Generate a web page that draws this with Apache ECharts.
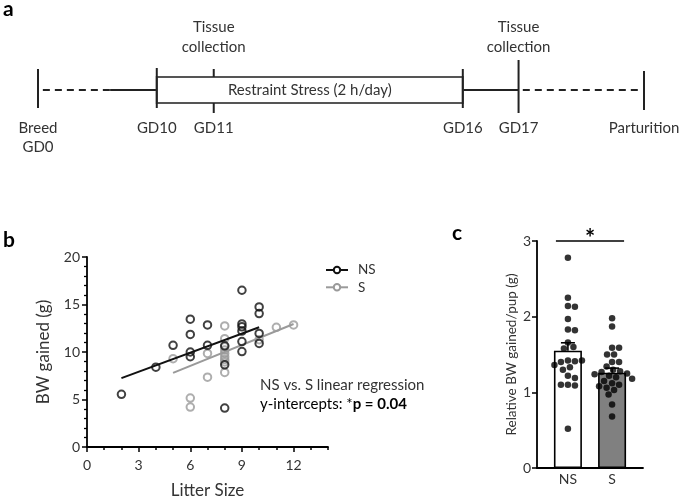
<!DOCTYPE html>
<html><head><meta charset="utf-8">
<script src="https://cdn.jsdelivr.net/npm/echarts@6/dist/echarts.min.js"></script>
<style>html,body{margin:0;padding:0;background:#fff}#c{width:685px;height:497px}</style>
</head><body><div id="c"></div>
<script>
// ---------- Panel a: timeline (schematic positions) ----------
const tlEvents = ['Breed\nGD0', 'GD10', 'GD11', 'GD16', 'GD17', 'Parturition'];
const tlPos = [0, 19.6, 29.0, 70.1, 79.3, 100];
const tlCollect = ['GD11', 'GD17'];
const tlCollectLabel = 'Tissue\ncollection';
const stressSpan = [19.6, 70.1];
const stressLabel = 'Restraint Stress (2 h/day)';
const tlSegments = [[0.8, 11.9, 1], [11.9, 19.6, 0], [70.1, 79.3, 0], [80.0, 99.0, 1]];

// ---------- Panel b: scatter ----------
const nsLitter = [2, 4, 5, 6, 6, 6, 6, 7, 7, 8, 8, 8, 9, 9, 9, 9, 9, 9, 10, 10, 10, 10];
const nsBW = [5.55, 8.4, 10.7, 13.45, 11.85, 10.0, 9.5, 12.85, 10.7, 10.65, 8.65, 4.1, 16.5, 12.95, 12.65, 12.2, 11.1, 10.05, 14.75, 14.05, 11.95, 10.9];
const sLitter = [5, 6, 6, 7, 7, 8, 8, 8, 8, 8, 8, 8, 8, 8, 10, 11, 12];
const sBW = [9.3, 5.15, 4.2, 9.85, 7.35, 12.75, 11.4, 10.55, 10.2, 9.85, 9.5, 9.2, 8.95, 7.85, 11.3, 12.6, 12.85];
const nsFitX = [2, 10], nsFitY = [7.25, 12.6];
const sFitX = [5, 12], sFitY = [7.8, 12.95];
const xTickLabels = [0, 3, 6, 9, 12];
const statLine1 = 'NS vs. S linear regression';
const statLine2a = 'y-intercepts: *';
const statLine2b = 'p = 0.04';

// ---------- Panel c: bars ----------
const groups = ['NS', 'S'];
const groupMean = [1.55, 1.26];
const groupSEM = [0.105, 0.06];
const nsRel = [2.78, 2.25, 2.14, 2.13, 1.97, 1.83, 1.82, 1.66, 1.60, 1.58, 1.42, 1.41, 1.40, 1.42, 1.36, 1.33, 1.30, 1.22, 1.19, 1.10, 1.09, 1.10, 0.52];
const sRel = [1.98, 1.87, 1.59, 1.59, 1.50, 1.50, 1.40, 1.40, 1.34, 1.30, 1.28, 1.27, 1.25, 1.24, 1.22, 1.20, 1.18, 1.15, 1.12, 1.10, 1.08, 1.06, 1.03, 0.97, 0.84, 0.68];
const sigMark = '*';

// ---------- styles ----------
const FONT = 'Lato, "Open Sans", sans-serif';
const TXT = '#333';
const BLACK = '#111';
const GRAY = '#9a9a9a';

const chart = echarts.init(document.getElementById('c'), null, {renderer: 'canvas'});

function swarmOffsets(vals, pxPerUnit, diam) {
  const placed = [];
  return vals.map(v => {
    const y = v * pxPerUnit;
    let best = 0;
    for (let s = 0; s < 400; s++) {
      const dx = (s % 2 ? 1 : -1) * Math.ceil(s / 2) * 0.5;
      if (placed.every(p => (p[0] - dx) ** 2 + (p[1] - y) ** 2 >= diam * diam)) { best = dx; break; }
    }
    placed.push([best, y]);
    return best;
  });
}
const cPx = 227 / 3;
const nsOff = swarmOffsets(nsRel, cPx, 7);
const sOff = swarmOffsets(sRel, cPx, 7);

const tickExt = {'Breed\nGD0': [21, 18], GD10: [22, 18], GD11: [21, 23], GD16: [21, 18], GD17: [30, 23], Parturition: [19, 20]};
const axisLineStyle = {color: '#000', width: 1.8};

const option = {
  animation: false,
  backgroundColor: '#fff',
  grid: [
    {left: 38, top: 55, width: 606, height: 70, outerBoundsMode: 'none'},
    {left: 87, top: 257, width: 241, height: 190, outerBoundsMode: 'none'},
    {left: 537, top: 241, width: 106, height: 227, outerBoundsMode: 'none'}
  ],
  xAxis: [
    {gridIndex: 0, type: 'value', min: 0, max: 100, show: false},
    {gridIndex: 1, type: 'value', min: 0, max: 14, interval: 1, position: 'bottom',
     axisLine: {onZero: false, lineStyle: axisLineStyle},
     axisTick: {length: 3, lineStyle: {color: '#000', width: 1.5}},
     axisLabel: {show: false},
     splitLine: {show: false},
     name: 'Litter Size', nameLocation: 'middle', nameGap: 35,
     nameTextStyle: {fontSize: 17, fontFamily: FONT, color: TXT}},
    {gridIndex: 2, type: 'value', min: -0.7, max: 1.7, interval: 0.1,
     axisLine: {onZero: false, lineStyle: axisLineStyle},
     axisTick: {show: false},
     axisLabel: {margin: 4, fontSize: 14, fontFamily: FONT, color: TXT,
       formatter: v => { const i = Math.round(v); return Math.abs(v - i) < 1e-6 && groups[i] !== undefined ? groups[i] : ''; }},
     splitLine: {show: false}},
    {gridIndex: 1, type: 'value', min: 0, max: 14, position: 'bottom',
     axisLine: {show: false, onZero: false},
     axisTick: {show: true, length: 5, customValues: xTickLabels, lineStyle: {color: '#000', width: 1.5}},
     axisLabel: {margin: 11, fontSize: 14, fontFamily: FONT, color: TXT, customValues: xTickLabels},
     splitLine: {show: false}}
  ],
  yAxis: [
    {gridIndex: 0, type: 'value', min: -35, max: 35, show: false},
    {gridIndex: 1, type: 'value', min: 0, max: 20, interval: 5,
     axisLine: {show: true, onZero: false, lineStyle: axisLineStyle},
     axisTick: {show: true, length: 5, lineStyle: {color: '#000', width: 1.5}},
     minorTick: {show: true, splitNumber: 5, length: 3, lineStyle: {color: '#000', width: 1.3}},
     axisLabel: {margin: 7, fontSize: 14, fontFamily: FONT, color: TXT},
     splitLine: {show: false},
     name: 'BW gained (g)', nameLocation: 'middle', nameGap: 35,
     nameTextStyle: {fontSize: 17, fontFamily: FONT, color: TXT}},
    {gridIndex: 2, type: 'value', min: 0, max: 3, interval: 1,
     axisLine: {show: true, onZero: false, lineStyle: axisLineStyle},
     axisTick: {show: true, length: 5, lineStyle: {color: '#000', width: 1.5}},
     axisLabel: {margin: 6, fontSize: 14, fontFamily: FONT, color: TXT},
     splitLine: {show: false},
     name: 'Relative BW gained/pup (g)', nameLocation: 'middle', nameGap: 18,
     nameTextStyle: {fontSize: 13.5, fontFamily: FONT, color: TXT}}
  ],
  legend: {
    data: ['NS', 'S'], orient: 'vertical', left: 320, top: 258,
    itemWidth: 22, itemHeight: 8, itemGap: 3.3, selectedMode: false,
    textStyle: {fontSize: 13.5, fontFamily: FONT, color: TXT, lineHeight: 14, padding: [0, 0, 0, 5]}
  },
  graphic: [
    {type: 'text', x: 3, y: 9, style: {text: 'a', font: 'bold 21px ' + FONT, fill: '#000', verticalAlign: 'middle'}},
    {type: 'text', x: 3, y: 240, style: {text: 'b', font: 'bold 21px ' + FONT, fill: '#000', verticalAlign: 'middle'}},
    {type: 'text', x: 452, y: 233, style: {text: 'c', font: 'bold 21px ' + FONT, fill: '#000', verticalAlign: 'middle'}},
    {type: 'text', x: 260, y: 385, style: {text: statLine1, font: '15px ' + FONT, fill: TXT, verticalAlign: 'middle'}},
    {type: 'text', x: 260, y: 404, style: {
      text: '{n|' + statLine2a + '}{b|' + statLine2b + '}', verticalAlign: 'middle',
      rich: {n: {fontSize: 15, fontFamily: FONT, color: TXT}, b: {fontSize: 15, fontFamily: FONT, fontWeight: 'bold', color: '#111'}}}}
  ],
  series: [
    // ----- timeline -----
    {type: 'custom', xAxisIndex: 0, yAxisIndex: 0, data: tlSegments, silent: true,
     renderItem: (p, api) => {
       const a = api.coord([api.value(0), 0]), b = api.coord([api.value(1), 0]);
       return {type: 'line', shape: {x1: a[0], y1: a[1], x2: b[0], y2: b[1]},
         style: {stroke: '#222', lineWidth: 2, lineDash: api.value(2) ? [7, 5] : null}};
     }},
    {type: 'custom', xAxisIndex: 0, yAxisIndex: 0, data: [stressSpan], silent: true,
     renderItem: (p, api) => {
       const tl = api.coord([api.value(0), 13]), br = api.coord([api.value(1), -13]);
       return {type: 'group', children: [
         {type: 'rect', shape: {x: tl[0], y: tl[1], width: br[0] - tl[0], height: br[1] - tl[1]},
          style: {fill: '#fff', stroke: '#555', lineWidth: 2}},
         {type: 'text', x: (tl[0] + br[0]) / 2, y: (tl[1] + br[1]) / 2,
          style: {text: stressLabel, font: '15px ' + FONT, fill: TXT, align: 'center', verticalAlign: 'middle'}}
       ]};
     }},
    {type: 'custom', xAxisIndex: 0, yAxisIndex: 0, data: tlPos.map((v, i) => [v, i]), silent: true,
     renderItem: (p, api) => {
       const pos = api.value(0), i = api.value(1), lab = tlEvents[i];
       const ext = tickExt[lab];
       const inside = pos > stressSpan[0] + 0.01 && pos < stressSpan[1] - 0.01;
       const ch = [];
       const seg = (y1, y2) => {
         const a = api.coord([pos, y1]), b = api.coord([pos, y2]);
         ch.push({type: 'line', shape: {x1: a[0], y1: a[1], x2: b[0], y2: b[1]}, style: {stroke: '#222', lineWidth: 2}});
       };
       if (inside) { seg(13, ext[0]); seg(-13, -ext[1]); } else { seg(ext[0], -ext[1]); }
       const lp = api.coord([pos, -29]);
       ch.push({type: 'text', x: lp[0], y: lp[1], style: {text: lab, font: '15px ' + FONT, fill: TXT,
         align: 'center', verticalAlign: 'top', lineHeight: 19}});
       if (tlCollect.includes(lab)) {
         const tp = api.coord([pos, 33]);
         ch.push({type: 'text', x: tp[0], y: tp[1], style: {text: tlCollectLabel, font: '15px ' + FONT, fill: TXT,
           align: 'center', verticalAlign: 'bottom', lineHeight: 20}});
       }
       return {type: 'group', children: ch};
     }},
    // ----- panel b -----
    {name: 'NS', type: 'line', xAxisIndex: 1, yAxisIndex: 1, data: nsFitX.map((x, i) => [x, nsFitY[i]]),
     symbol: 'emptyCircle', showSymbol: false, symbolSize: 7, z: 4,
     lineStyle: {color: BLACK, width: 2}, itemStyle: {color: BLACK}},
    {name: 'S', type: 'line', xAxisIndex: 1, yAxisIndex: 1, data: sFitX.map((x, i) => [x, sFitY[i]]),
     symbol: 'emptyCircle', showSymbol: false, symbolSize: 7, z: 3,
     lineStyle: {color: GRAY, width: 2}, itemStyle: {color: GRAY}},
    {name: 'S points', type: 'scatter', xAxisIndex: 1, yAxisIndex: 1, data: sLitter.map((x, i) => [x, sBW[i]]),
     symbol: 'circle', symbolSize: 7.5, z: 2,
     itemStyle: {color: 'rgba(0,0,0,0)', borderColor: GRAY, borderWidth: 2}},
    {name: 'NS points', type: 'scatter', xAxisIndex: 1, yAxisIndex: 1, data: nsLitter.map((x, i) => [x, nsBW[i]]),
     symbol: 'circle', symbolSize: 7.5, z: 3,
     itemStyle: {color: 'rgba(0,0,0,0)', borderColor: BLACK, borderWidth: 2}},
    // ----- panel c -----
    {name: 'bars', type: 'bar', xAxisIndex: 2, yAxisIndex: 2, barWidth: 28, z: 2,
     data: groupMean.map((m, i) => ({value: [i, m], itemStyle: {color: i === 0 ? '#fff' : '#808080', borderColor: '#000', borderWidth: 1.6}}))},
    {name: 'err', type: 'custom', xAxisIndex: 2, yAxisIndex: 2, z: 3, silent: true,
     data: groupMean.map((m, i) => [i, m, m + groupSEM[i]]),
     renderItem: (p, api) => {
       const a = api.coord([api.value(0), api.value(1)]), b = api.coord([api.value(0), api.value(2)]);
       return {type: 'group', children: [
         {type: 'line', shape: {x1: a[0], y1: a[1], x2: b[0], y2: b[1]}, style: {stroke: '#000', lineWidth: 1.6}},
         {type: 'line', shape: {x1: b[0] - 7, y1: b[1], x2: b[0] + 7, y2: b[1]}, style: {stroke: '#000', lineWidth: 1.6}}
       ]};
     }},
    {name: 'NS dots', type: 'scatter', xAxisIndex: 2, yAxisIndex: 2, z: 4, symbolSize: 6.5,
     itemStyle: {color: '#000'}, data: nsRel.map((v, j) => ({value: [0, v], symbolOffset: [nsOff[j], 0]}))},
    {name: 'S dots', type: 'scatter', xAxisIndex: 2, yAxisIndex: 2, z: 4, symbolSize: 6.5,
     itemStyle: {color: '#000'}, data: sRel.map((v, j) => ({value: [1, v], symbolOffset: [sOff[j], 0]}))},
    {name: 'sig', type: 'custom', xAxisIndex: 2, yAxisIndex: 2, z: 5, silent: true,
     data: [[0, 1, 3]],
     renderItem: (p, api) => {
       const a = api.coord([api.value(0), api.value(2)]), b = api.coord([api.value(1), api.value(2)]);
       return {type: 'group', children: [
         {type: 'line', shape: {x1: a[0] - 12, y1: a[1], x2: b[0] + 12, y2: b[1]}, style: {stroke: '#000', lineWidth: 1.6}},
         {type: 'text', x: (a[0] + b[0]) / 2, y: a[1] + 10, style: {text: sigMark, font: 'bold 24px ' + FONT, fill: '#000', align: 'center', verticalAlign: 'bottom'}}
       ]};
     }}
  ]
};
chart.setOption(option);
</script></body></html>
